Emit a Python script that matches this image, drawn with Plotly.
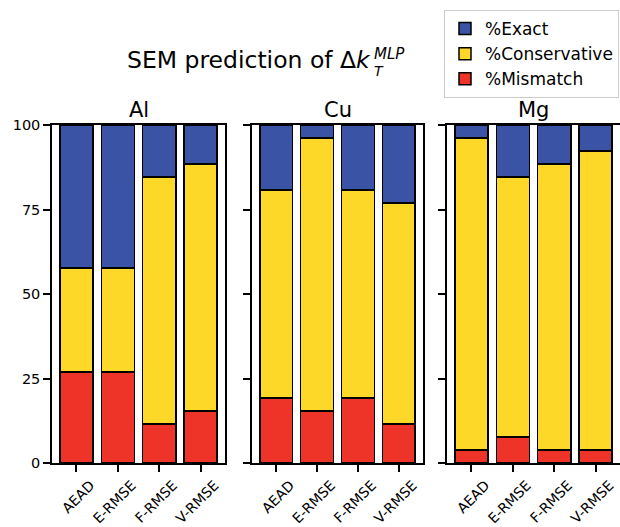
import plotly.graph_objects as go

metrics = ["AEAD", "E-RMSE", "F-RMSE", "V-RMSE"]
elements = ["Al", "Cu", "Mg"]

al_mismatch = [26.9, 26.9, 11.5, 15.4]
al_conservative = [30.8, 30.8, 73.1, 73.1]
al_exact = [42.3, 42.3, 15.4, 11.5]

cu_mismatch = [19.2, 15.4, 19.2, 11.5]
cu_conservative = [61.5, 80.8, 61.5, 65.4]
cu_exact = [19.3, 3.8, 19.3, 23.1]

mg_mismatch = [3.8, 7.7, 3.8, 3.8]
mg_conservative = [92.3, 76.9, 84.6, 88.5]
mg_exact = [3.9, 15.4, 11.6, 7.7]

y_ticks = [0, 25, 50, 75, 100]

series = {
    "Al": (al_mismatch, al_conservative, al_exact),
    "Cu": (cu_mismatch, cu_conservative, cu_exact),
    "Mg": (mg_mismatch, mg_conservative, mg_exact),
}

colors = {"%Mismatch": "#EE3429", "%Conservative": "#FDD828", "%Exact": "#3A53A4"}

W, H = 620, 527
x_domains = [(52 / W, 225 / W), (252 / W, 423 / W), (447 / W, 1.0)]
y_domain = ((H - 463) / H, (H - 125) / H)

fig = go.Figure()
for i, el in enumerate(elements):
    mis, con, ex = series[el]
    xa = "x" if i == 0 else f"x{i+1}"
    ya = "y" if i == 0 else f"y{i+1}"
    for name, vals in (("%Mismatch", mis), ("%Conservative", con), ("%Exact", ex)):
        fig.add_trace(go.Bar(
            x=metrics, y=vals, name=name, xaxis=xa, yaxis=ya,
            width=0.8, marker=dict(color=colors[name], line=dict(color="black", width=1.5)),
            showlegend=(i == 0), legendgroup=name,
        ))

font_family = "DejaVu Sans"
layout = dict(
    width=W, height=H, margin=dict(l=0, r=0, t=0, b=0, autoexpand=False),
    barmode="stack", plot_bgcolor="white", paper_bgcolor="white",
    font=dict(family=font_family, size=14, color="black"),
    legend=dict(x=444 / W, y=1 - 10 / H, xanchor="left", yanchor="top",
                traceorder="reversed", bordercolor="#cccccc", borderwidth=1,
                font=dict(size=17), bgcolor="white", tracegroupgap=0),
)
for i in range(3):
    xk = "xaxis" if i == 0 else f"xaxis{i+1}"
    yk = "yaxis" if i == 0 else f"yaxis{i+1}"
    ya = "y" if i == 0 else f"y{i+1}"
    xa = "x" if i == 0 else f"x{i+1}"
    layout[xk] = dict(domain=x_domains[i], anchor=ya, type="category", automargin=False,
                      range=[-0.59, 3.59], showline=True, linecolor="black", linewidth=1.5,
                      mirror=True, ticks="outside", ticklen=7, tickwidth=1.5, tickcolor="black",
                      tickangle=-45, showgrid=False, zeroline=False,
                      ticklabelshift=14,
                      tickfont=dict(size=14))
    layout[yk] = dict(domain=y_domain, anchor=xa, range=[0, 100], tickvals=y_ticks,
                      automargin=False,
                      showline=True, linecolor="black", linewidth=1.5,
                      mirror=(i < 2), ticks="outside", ticklen=7, tickwidth=1.5,
                      tickcolor="black", showgrid=False, zeroline=False,
                      showticklabels=(i == 0), tickfont=dict(size=14.5))
fig.update_layout(**layout)

annotations = []
for i, el in enumerate(elements):
    cx = (x_domains[i][0] + x_domains[i][1]) / 2
    annotations.append(dict(text=el, x=cx, y=1 - 110 / H, xref="paper", yref="paper",
                            xanchor="center", yanchor="middle", showarrow=False,
                            font=dict(size=21)))
annotations.append(dict(text="SEM prediction of Δ<i>k</i>", x=373 / W, y=1 - 60 / H,
                        xref="paper", yref="paper", xanchor="right", yanchor="middle",
                        showarrow=False, font=dict(size=23.5)))
annotations.append(dict(text="<i>MLP</i>", x=372 / W, y=1 - 54 / H, xref="paper", yref="paper",
                        xanchor="left", yanchor="middle", showarrow=False, font=dict(size=15)))
annotations.append(dict(text="<i>T</i>", x=372 / W, y=1 - 71 / H, xref="paper", yref="paper",
                        xanchor="left", yanchor="middle", showarrow=False, font=dict(size=14)))
fig.update_layout(annotations=annotations)

fig.write_html("out.html")
